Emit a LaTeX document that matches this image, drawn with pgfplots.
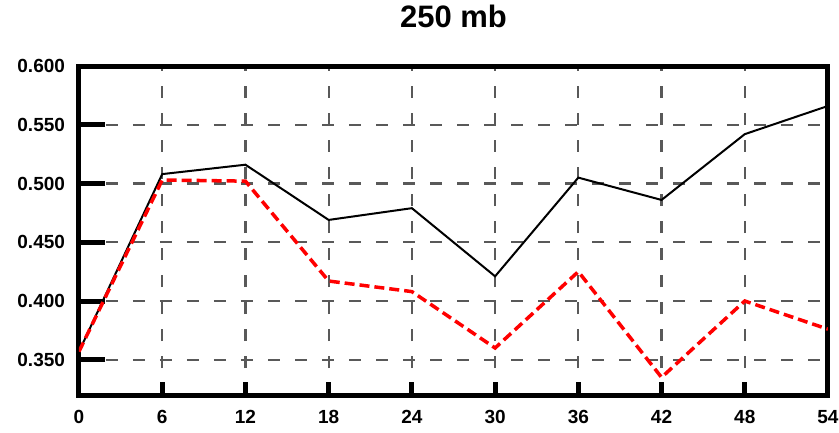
\documentclass[border=0pt]{standalone}
\usepackage{pgfplots}
\pgfplotsset{compat=1.18}
\usepackage{fontspec}
\setmainfont{Liberation Sans}
\begin{document}
\begin{tikzpicture}
\path[use as bounding box] (-79pt,-37pt) rectangle (760pt,395pt);
\begin{axis}[
  at={(0pt,0pt)}, anchor=south west,
  scale only axis, width=749pt, height=329pt,
  xmin=0, xmax=54, ymin=0.32, ymax=0.60,
  xtick={0,6,...,54},
  ytick={0.35,0.40,0.45,0.50,0.55,0.60},
  tick pos=left, tick align=inside,
  axis line style={line width=5pt, line cap=rect},
  xtick style={line width=5pt, black, /pgfplots/major tick length=13pt},
  ytick style={line width=5pt, black, /pgfplots/major tick length=26pt},
  grid=major,
  major grid style={line width=2.2pt, gray!70!black, dash pattern=on 12pt off 15pt},
  /pgf/number format/assume math mode=true,
  yticklabel style={/pgf/number format/.cd, fixed, fixed zerofill, precision=3, /tikz/.cd, xshift=-10.5pt},
  xticklabel style={yshift=-11.5pt},
  tick label style={font=\fontsize{19}{20}\selectfont\bfseries},
  title={250 mb},
  title style={at={(0.5,1)}, anchor=base, yshift=33pt, font=\fontsize{31}{32}\selectfont\bfseries},
]
\addplot[black, line width=2pt] coordinates {
(0,0.357) (6,0.508) (12,0.516) (18,0.469) (24,0.479) (30,0.421) (36,0.505) (42,0.486) (48,0.542) (54,0.566)};
\addplot[red, line width=3.5pt, dash pattern=on 10pt off 5pt] coordinates {
(0,0.357) (6,0.503) (12,0.502) (18,0.417) (24,0.408) (30,0.360) (36,0.425) (42,0.335) (48,0.400) (54,0.376)};
\end{axis}
\end{tikzpicture}
\end{document}
